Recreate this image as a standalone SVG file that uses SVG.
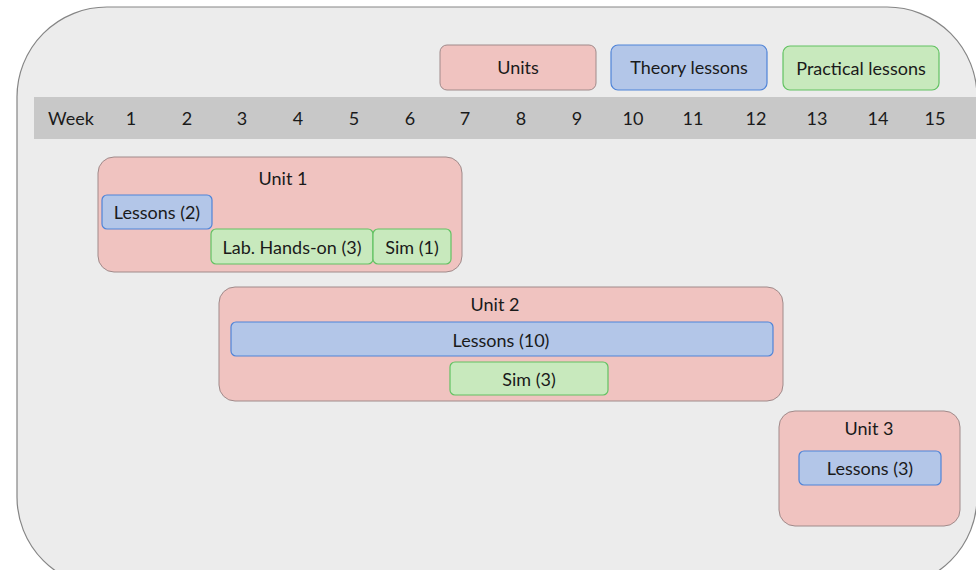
<svg xmlns="http://www.w3.org/2000/svg" width="976" height="570" viewBox="0 0 976 570">
<style>
  text { font-family: Lato, "Open Sans", "Liberation Sans", sans-serif; font-size: 18px; fill: #1a1a1a; text-anchor: middle; dominant-baseline: central; }
  .unit { fill: #f0c3c0; stroke: #a08a8a; stroke-width: 1; }
  .theory { fill: #b3c6e8; stroke: #4f84d8; stroke-width: 1.2; }
  .prac { fill: #c8e9bd; stroke: #62c262; stroke-width: 1.2; }
</style>
<rect width="976" height="570" fill="#ffffff"/>
<rect x="17" y="7" width="960" height="580" rx="90" ry="90" fill="#ececec" stroke="#858585" stroke-width="1.2"/>

<g id="legend-units"><rect class="unit" x="440" y="45" width="156" height="45" rx="7"/><text x="518" y="67">Units</text></g>
<g id="legend-theory"><rect class="theory" x="611" y="45" width="156" height="45" rx="7"/><text x="689" y="67">Theory lessons</text></g>
<g id="legend-practical"><rect class="prac" x="783" y="46" width="156" height="44" rx="7"/><text x="861" y="68">Practical lessons</text></g>

<g id="week-bar">
  <rect x="34" y="97" width="945" height="42" fill="#c8c8c8"/>
  <text x="71" y="118">Week</text>
  <text x="131" y="118">1</text>
  <text x="187" y="118">2</text>
  <text x="242" y="118">3</text>
  <text x="298" y="118">4</text>
  <text x="354" y="118">5</text>
  <text x="410" y="118">6</text>
  <text x="465" y="118">7</text>
  <text x="521" y="118">8</text>
  <text x="577" y="118">9</text>
  <text x="633" y="118">10</text>
  <text x="693" y="118">11</text>
  <text x="756" y="118">12</text>
  <text x="817" y="118">13</text>
  <text x="878" y="118">14</text>
  <text x="935" y="118">15</text>
</g>

<g id="unit1">
  <rect class="unit" x="98" y="157" width="364" height="115" rx="16"/>
  <text x="283" y="178">Unit 1</text>
</g>
<g id="unit1-lessons"><rect class="theory" x="102" y="195" width="110" height="34" rx="5"/><text x="157" y="212">Lessons (2)</text></g>
<g id="unit1-lab"><rect class="prac" x="211" y="229" width="162" height="35" rx="5"/><text x="292" y="247">Lab. Hands-on (3)</text></g>
<g id="unit1-sim"><rect class="prac" x="373" y="229" width="78" height="35" rx="5"/><text x="412" y="247">Sim (1)</text></g>

<g id="unit2">
  <rect class="unit" x="219" y="287" width="564" height="114" rx="16"/>
  <text x="495" y="304">Unit 2</text>
</g>
<g id="unit2-lessons"><rect class="theory" x="231" y="322" width="542" height="34" rx="5"/><text x="501" y="340">Lessons (10)</text></g>
<g id="unit2-sim"><rect class="prac" x="450" y="362" width="158" height="33" rx="5"/><text x="529" y="379">Sim (3)</text></g>

<g id="unit3">
  <rect class="unit" x="779" y="411" width="181" height="115" rx="16"/>
  <text x="869" y="428">Unit 3</text>
</g>
<g id="unit3-lessons"><rect class="theory" x="799" y="451" width="142" height="34" rx="5"/><text x="870" y="468">Lessons (3)</text></g>

<g id="connectors"></g>
</svg>
